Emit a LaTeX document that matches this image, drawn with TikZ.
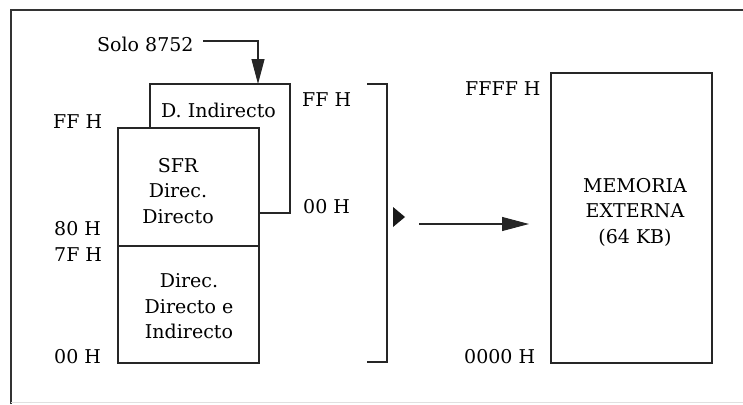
\documentclass[tikz,border=0pt]{standalone}
\usepackage{fontspec}
\setmainfont{DejaVu Serif}
\usetikzlibrary{arrows.meta}
\begin{document}
\begin{tikzpicture}[x=1pt,y=-1pt,
  txt/.style={font=\fontsize{19}{25.5}\selectfont, inner sep=0pt, text=black},
  lbl/.style={txt, anchor=base west},
  box/.style={draw=black!85, line width=1.1pt, fill=white, inner sep=0pt},
  conn/.style={draw=black!85, line width=1.1pt},
  frame/.style={draw=black!80, line width=1.6pt}]
\useasboundingbox (0,0) rectangle (743,404);
% outer frame
\coordinate (f1) at (11,404);
\coordinate (f2) at (11,10);
\coordinate (f3) at (743,10);
\draw[frame] (f1) -- (f2) -- (f3);
\coordinate (b1) at (11,402);
\coordinate (b2) at (743,402);
\draw[draw=black!12, line width=1pt] (b1) -- (b2);
% boxes
\node[box, minimum width=140, minimum height=129] (dind) at (220,148.5) {};
\node[txt] (dindt) at (218.5,110) {D. Indirecto};
\node[box, minimum width=141, minimum height=118] (sfr) at (188.5,187) {};
\node[txt, align=center] (sfrt) at (178,191) {SFR\\Direc.\\Directo};
\node[box, minimum width=141, minimum height=117] (low) at (188.5,304.5) {};
\node[txt, align=center] (lowt) at (189,306.5) {Direc.\\Directo e\\Indirecto};
\node[box, minimum width=161, minimum height=290] (mem) at (631.5,218) {};
\node[txt, align=center] (memt) at (635,212) {MEMORIA\\EXTERNA\\(64 KB)};
% labels
\node[lbl] (solo) at (97,52) {Solo 8752};
\node[lbl] (ffl) at (53,128) {FF H};
\node[lbl] (ffr) at (302,106) {FF H};
\node[lbl] (zzr) at (303,213) {00 H};
\node[lbl] (e80) at (54,235) {80 H};
\node[lbl] (e7f) at (54,261) {7F H};
\node[lbl] (zzl) at (54,363) {00 H};
\node[lbl] (ffff) at (465,95) {FFFF H};
\node[lbl] (z4) at (464,363) {0000 H};
% Solo 8752 arrow
\coordinate (s1) at (203,41);
\coordinate (s2) at (258,84);
\draw[conn, -{Triangle[length=25pt,width=13pt]}] (s1) -| (s2);
% bracket
\coordinate (k1) at (367,84);
\coordinate (k2) at (387,84);
\coordinate (k3) at (387,362);
\coordinate (k4) at (367,362);
\draw[conn, line width=1.5pt] (k1) -- (k2) -- (k3) -- (k4);
% small triangle
\coordinate (t1) at (393,207);
\coordinate (t2) at (405,217);
\coordinate (t3) at (393,227);
\fill[black!90] (t1) -- (t2) -- (t3) -- cycle;
% main arrow
\coordinate (a1) at (419,224);
\coordinate (a2) at (529,224);
\draw[conn, -{Triangle[length=27pt,width=14pt]}] (a1) -- (a2);
\end{tikzpicture}
\end{document}
